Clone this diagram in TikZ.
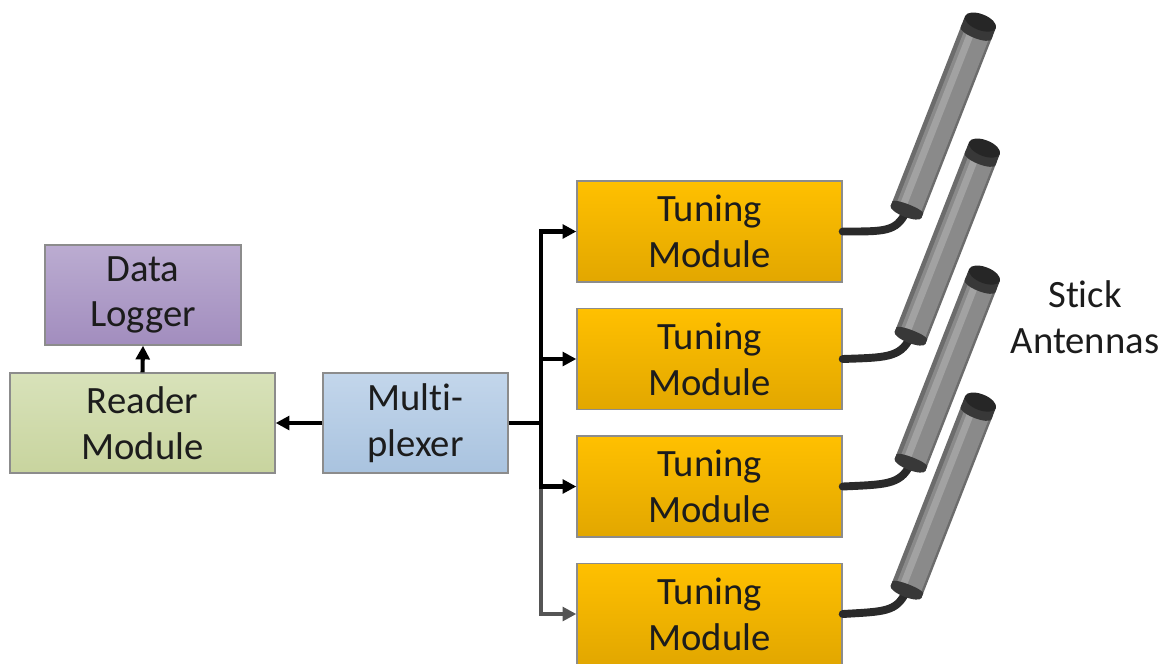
\documentclass[tikz,border=0pt]{standalone}
\usepackage{fontspec}
\setmainfont{Carlito}[Ligatures=NoCommon]
\usetikzlibrary{arrows.meta}

\definecolor{boxline}{HTML}{8C8C8C}
\definecolor{dlTop}{HTML}{BBACD1}
\definecolor{dlBot}{HTML}{A28DBE}
\definecolor{rdTop}{HTML}{D8E2BA}
\definecolor{rdBot}{HTML}{C8D49E}
\definecolor{muxTop}{HTML}{C3D6EB}
\definecolor{muxBot}{HTML}{A9C3DF}
\definecolor{tunTop}{HTML}{FFC000}
\definecolor{tunBot}{HTML}{E2A700}
\definecolor{txt}{HTML}{1C1C1C}
\definecolor{cablec}{HTML}{2A2A2A}
\definecolor{antCap}{HTML}{383838}
\definecolor{antTop}{HTML}{262626}
\definecolor{antEdge}{HTML}{6C6C6C}
\definecolor{antBase}{HTML}{8A8A8A}
\definecolor{antHi}{HTML}{A2A2A2}
\definecolor{lowgray}{HTML}{555555}

\begin{document}
\begin{tikzpicture}[x=0.02cm,y=-0.02cm,
  box/.style={draw=boxline, line width=0.8pt, minimum height=2cm, align=center,
    inner sep=0pt, font=\fontsize{22}{26}\selectfont, text=txt},
  tuning/.style={box, minimum width=5.3cm, minimum height=2.02cm, top color=tunTop, bottom color=tunBot},
  link/.style={line width=2.3pt, -{Triangle[length=7.8pt,width=7.8pt]}},
  cable/.style={line width=4.5pt, cablec, line cap=round},
]
\useasboundingbox (0,0) rectangle (1168,663);

% processing chain
\node[box, minimum width=3.92cm, top color=dlTop, bottom color=dlBot] (dl) at (143,295) {Data\\Logger};
\node[box, minimum width=5.3cm, top color=rdTop, bottom color=rdBot] (rd) at (142.5,423) {Reader\\Module};
\node[box, minimum width=3.7cm, top color=muxTop, bottom color=muxBot] (mux) at (415.5,423) {Multi-\\plexer};
\foreach \i/\y in {1/231.5,2/359,3/486.5,4/614}
  \node[tuning] (t\i) at (709.5,\y) {Tuning\\Module};

\node[font=\fontsize{22}{26}\selectfont, text=txt, align=center] (lbl) at (1085,317) {Stick\\Antennas};

% signal paths
\draw[link] (rd.north) -- (dl.south);
\draw[link] (mux.west) -- (rd.east);
\coordinate (bus) at (541,423);
\draw[line width=2.3pt] (mux.east) -- (bus);
\draw[link, lowgray] (bus) |- (t4.west);
\draw[link] (bus) |- (t3.west);
\draw[link] (bus) |- (t1.west);
\draw[link] (bus) |- (t2.west);

% antennas with their cables
\foreach \i/\bx/\by in {1/906/212, 2/910/338, 3/910/465, 4/906/592}{
  \draw[cable] (t\i.east) .. controls (885,\by+19.5) and (\bx-10,\by+20) .. (\bx,\by);
  \begin{scope}[shift={(\bx,\by)}, rotate=68.6]
    \draw[line width=0.66cm, antEdge] (0,0) -- (196,0);
    \draw[line width=0.52cm, antBase] (0,1) -- (196,1);
    \draw[line width=0.14cm, antHi] (0,-5) -- (196,-5);
    \fill[antCap] (0,-16.5) rectangle (5,16.5);
    \fill[antCap] (0,0) ellipse [x radius=0.1cm, y radius=0.33cm];
    \fill[antCap] (5,0) ellipse [x radius=0.06cm, y radius=0.33cm];
    \fill[antCap] (192,-16.5) rectangle (204,16.5);
    \fill[antCap] (192,0) ellipse [x radius=0.1cm, y radius=0.33cm];
    \fill[antTop] (204,0) ellipse [x radius=0.16cm, y radius=0.33cm];
  \end{scope}
}
\end{tikzpicture}
\end{document}
